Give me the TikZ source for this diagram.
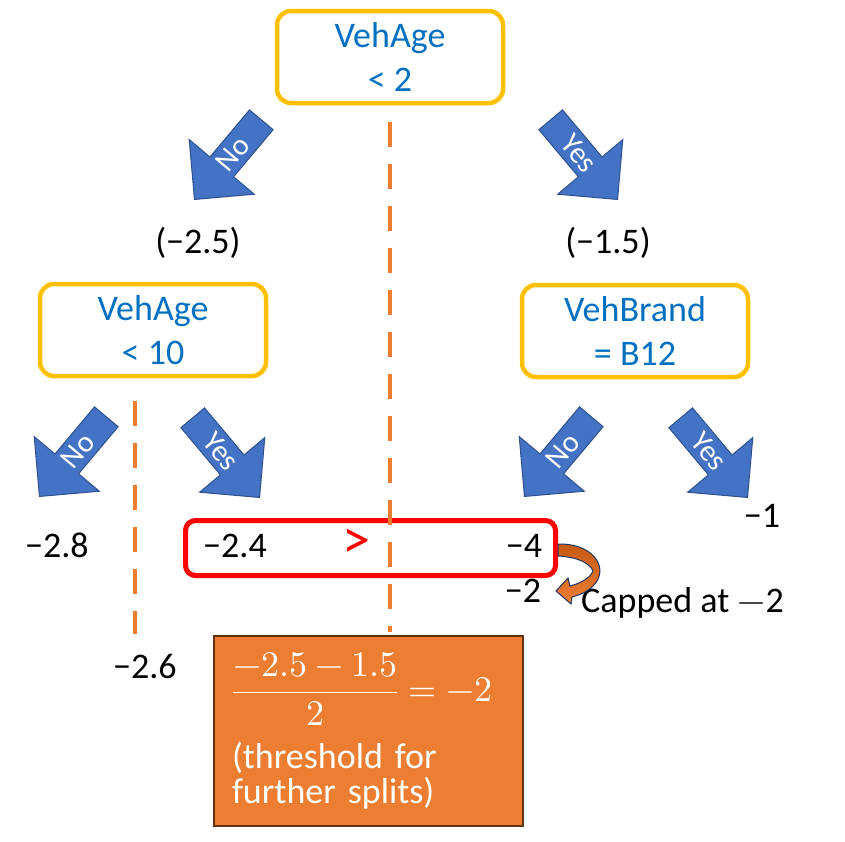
\documentclass[tikz,border=0pt]{standalone}
\usepackage{amsmath}
\usepackage{unicode-math}
\setmainfont{Carlito}
\setmathfont{Latin Modern Math}
\usetikzlibrary{shapes.arrows}
\definecolor{splitgold}{RGB}{255,192,0}
\definecolor{splitblue}{RGB}{0,112,192}
\definecolor{arrowfill}{RGB}{68,114,196}
\definecolor{arrowedge}{RGB}{47,82,143}
\definecolor{cutorange}{RGB}{237,125,49}
\definecolor{calcedge}{RGB}{99,51,15}
\definecolor{capbrown}{RGB}{197,90,17}
\definecolor{capedge}{RGB}{31,56,100}
\newcommand{\bigtext}{\fontsize{36pt}{44pt}\selectfont}
\newcommand{\splitarrow}[5]{%
  \node[branch,rotate=#3,shape border rotate=#4,anchor=tip] (#1) at (#2) {#5};%
}

\begin{document}
\begin{tikzpicture}[x=1pt,y=-1pt,
  splitbox/.style={draw=splitgold,line width=4.5pt,rounded corners=14pt,minimum width=226pt,minimum height=92pt,align=center,text=splitblue,font=\bigtext,inner sep=0pt},
  branch/.style={single arrow,fill=arrowfill,draw=arrowedge,line width=1pt,text=white,font=\fontsize{30pt}{30pt}\selectfont,minimum height=104pt,minimum width=85pt,single arrow head extend=21.5pt,inner xsep=2pt,inner ysep=2pt},
  leaf/.style={font=\bigtext,anchor=base,inner sep=0pt},
  cutline/.style={draw=cutorange,line width=4pt,dash pattern=on 25pt off 17pt},
  calcbox/.style={draw=calcedge,line width=2pt,fill=cutorange,text=white,minimum height=190pt,text width=273pt,inner xsep=18pt,align=left,font=\fontsize{36pt}{35pt}\selectfont}]
  \useasboundingbox (0,0) rectangle (845,841);
  \node[splitbox] (root) at (390,57) {VehAge\\< 2};
  \node[splitbox] (ageten) at (153,330) {VehAge\\< 10};
  \node[splitbox] (brand) at (635,331) {VehBrand\\= B12};
  \splitarrow{noA}{194,200}{50}{180}{No}
  \splitarrow{yesA}{618,200}{-50}{0}{Yes}
  \splitarrow{noB}{39,497}{50}{180}{No}
  \splitarrow{yesB}{260,498}{-50}{0}{Yes}
  \splitarrow{noC}{524,497}{50}{180}{No}
  \splitarrow{yesC}{748,498}{-50}{0}{Yes}
  \node[leaf] (meanno) at (198,253) {(−2.5)};
  \node[leaf] (meanyes) at (608,253) {(−1.5)};
  \node[draw=red,line width=5pt,rounded corners=10pt,minimum width=370pt,minimum height=55pt] (pair) at (370.5,548) {};
  \node[leaf] (leafA) at (57,557) {−2.8};
  \node[leaf] (leafB) at (235,557) {−2.4};
  \node[leaf,text=red,font=\fontsize{56pt}{56pt}\selectfont] (gt) at (356,558) {>};
  \node[leaf] (leafC) at (524,557) {−4};
  \node[leaf] (leafD) at (762,527) {−1};
  \node[leaf] (capped) at (523,602) {−2};
  \node[leaf,anchor=base west] (capnote) at (581,612) {Capped at $-$2};
  \node[leaf] (leafE) at (145,678) {−2.6};
  \node[calcbox] (thresh) at (368.5,731) {$\dfrac{-2.5-1.5}{2}=-2$\\[15pt](threshold for\\further splits)};
  \draw[cutline] (390,122) -- (390,632);
  \draw[cutline] (135,401) -- (135,634);
  \draw[capedge,line width=1pt,top color=capbrown,bottom color=cutorange]
    (558,544) .. controls (588,543) and (606,562) .. (598,579)
    .. controls (593,589) and (583,594) .. (572,597)
    -- (571,604) -- (556,591) -- (568,578) -- (570,586)
    .. controls (581,583) and (590,578) .. (593,571)
    .. controls (590,563) and (577,557) .. (558,556) -- cycle;
\end{tikzpicture}
\end{document}
